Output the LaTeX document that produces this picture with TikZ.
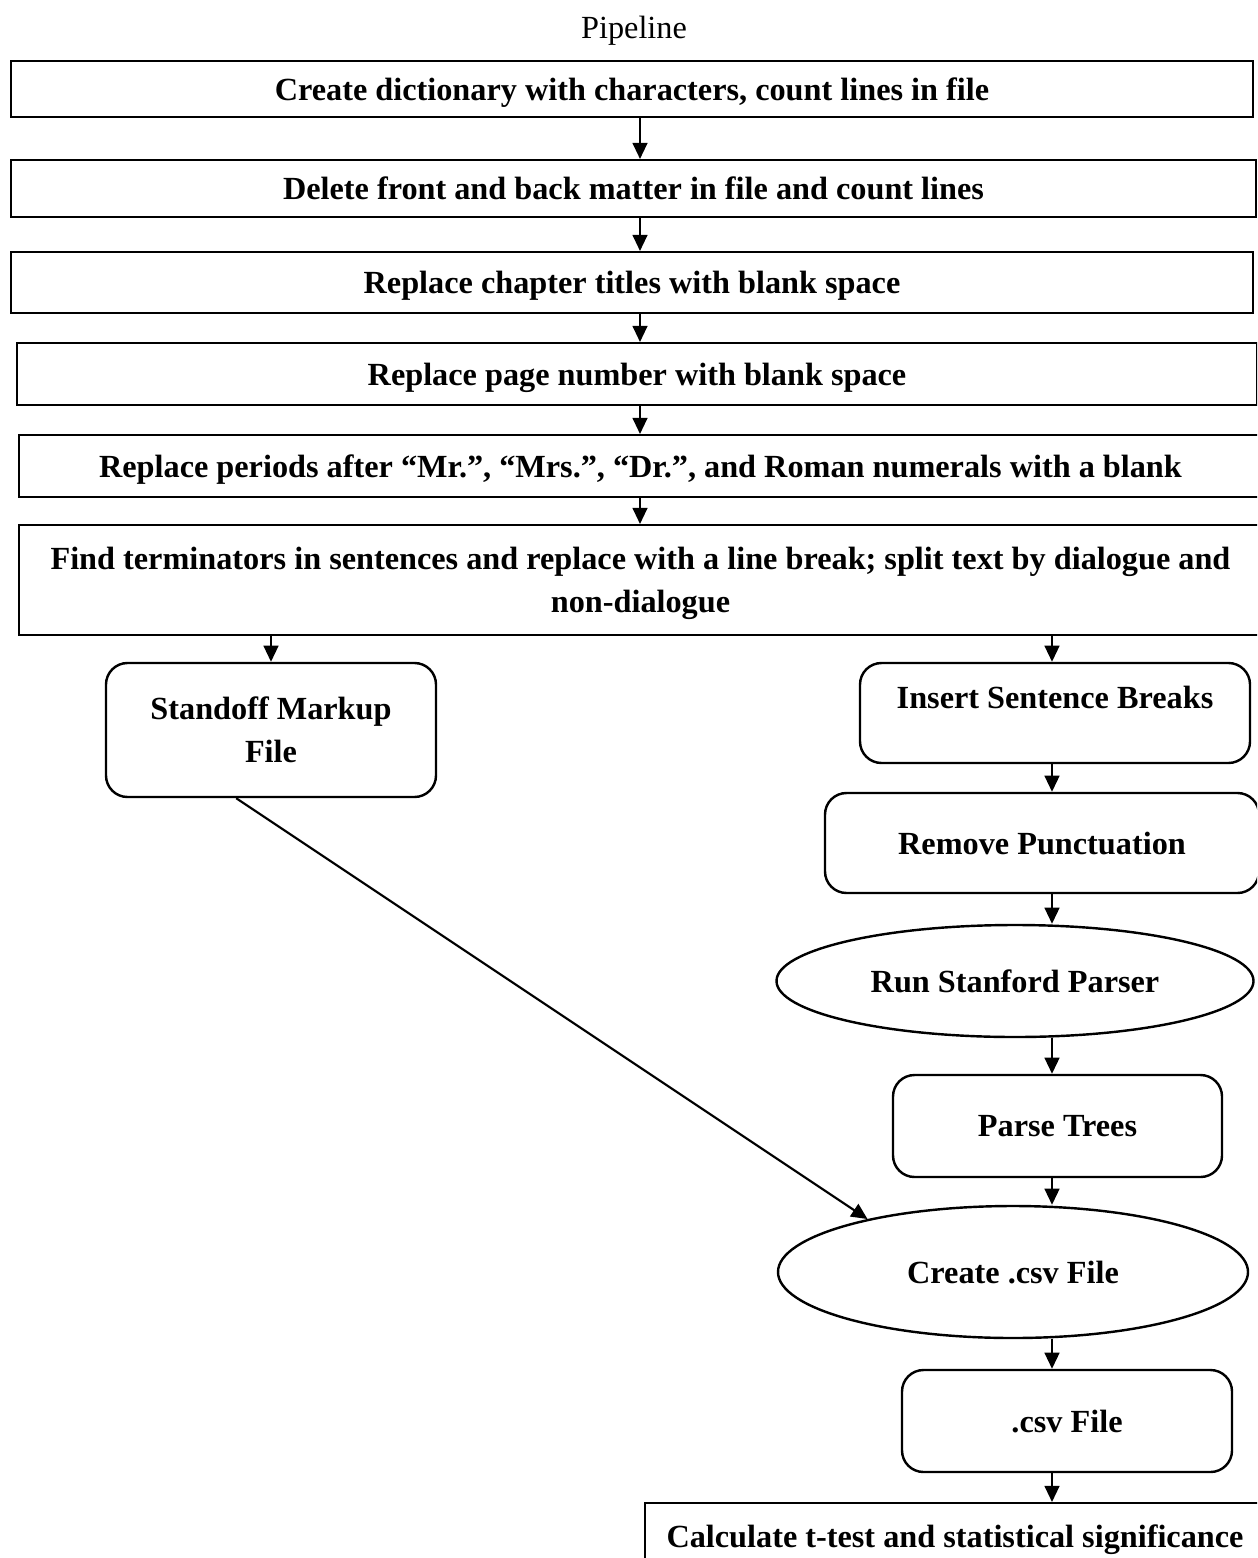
\documentclass[tikz,border=0pt]{standalone}
\usepackage{fontspec}
\setmainfont{Liberation Serif}
\usetikzlibrary{positioning,shapes.geometric,arrows.meta}
\newcommand{\pxu}{0.372pt}
\begin{document}
\begin{tikzpicture}[x=\pxu, y=-\pxu,
		stepbox/.style={draw, line width=0.75pt, inner sep=0pt, text depth=0pt, align=center, font=\bfseries\fontsize{12}{16}\selectfont},
		roundbox/.style={stepbox, rounded corners=8pt, line width=0.9pt},
		ovalbox/.style={stepbox, ellipse, line width=0.9pt},
		arr/.style={-{Triangle[length=6pt,width=5.5pt]}, line width=0.8pt}]
	\clip (0,0) rectangle (1257,1558);
	\coordinate (mid) at (640,0);
	\coordinate (rcol) at (1052,0);
	\node (title) at (634,31) {\fontsize{12}{14}\selectfont Pipeline};
	% main column
	\node[stepbox, minimum width={1242*\pxu}, minimum height={56*\pxu}] (dict) at (632,89) {Create dictionary with characters, count lines in file};
	\node[stepbox, minimum width={1245*\pxu}, minimum height={57*\pxu}] (front) at (633.5,188.5) {Delete front and back matter in file and count lines};
	\node[stepbox, minimum width={1242*\pxu}, minimum height={61*\pxu}] (chap) at (632,282.5) {Replace chapter titles with blank space};
	\node[stepbox, minimum width={1240*\pxu}, minimum height={62*\pxu}] (page) at (637,374) {Replace page number with blank space};
	\node[stepbox, minimum width={1243*\pxu}, minimum height={62*\pxu}] (period) at (640.5,466) {Replace periods after “Mr.”, “Mrs.”, “Dr.”, and Roman numerals with a blank};
	\node[stepbox, minimum width={1243*\pxu}, minimum height={110*\pxu}] (term) at (640.5,580) {Find terminators in sentences and replace with a line break; split text by dialogue and\\non-dialogue};
	% two branches
	\node[roundbox, minimum width={330*\pxu}, minimum height={134*\pxu}] (standoff) at (271,730) {Standoff Markup\\File};
	\node[roundbox, minimum width={390*\pxu}, minimum height={100*\pxu}] (insert) at (1055,713) {Insert Sentence Breaks\\[-4pt]\mbox{}};
	\node[roundbox, minimum width={434*\pxu}, minimum height={100*\pxu}] (punct) at (1042,843) {Remove Punctuation};
	\node[ovalbox, minimum width={477*\pxu}, minimum height={112*\pxu}] (parser) at (1015,981) {Run Stanford Parser};
	\node[roundbox, minimum width={329*\pxu}, minimum height={102*\pxu}] (trees) at (1057.5,1126) {Parse Trees};
	\node[ovalbox, minimum width={470*\pxu}, minimum height={132*\pxu}] (csvmake) at (1013,1272) {Create .csv File};
	\node[roundbox, minimum width={330*\pxu}, minimum height={102*\pxu}] (csvfile) at (1067,1421) {.csv File};
	\node[stepbox, minimum width={620*\pxu}, minimum height={66*\pxu}] (ttest) at (955,1536) {Calculate t-test and statistical significance};
	% arrows
	\draw[arr] (dict.south -| mid) -- (front.north -| mid);
	\draw[arr] (front.south -| mid) -- (chap.north -| mid);
	\draw[arr] (chap.south -| mid) -- (page.north -| mid);
	\draw[arr] (page.south -| mid) -- (period.north -| mid);
	\draw[arr] (period.south -| mid) -- (term.north -| mid);
	\draw[arr] (term.south -| standoff.north) -- (standoff.north);
	\draw[arr] (term.south -| rcol) -- (insert.north -| rcol);
	\draw[arr] (insert.south -| rcol) -- (punct.north -| rcol);
	\draw[arr] (punct.south -| rcol) -- (parser.north -| rcol);
	\draw[arr] (parser.south -| rcol) -- (trees.north -| rcol);
	\draw[arr] (trees.south -| rcol) -- (csvmake.north -| rcol);
	\draw[arr] (csvmake.south -| rcol) -- (csvfile.north -| rcol);
	\draw[arr] (csvfile.south -| rcol) -- (ttest.north -| rcol);
	\draw[arr] (standoff.243) -- (csvmake.160);
\end{tikzpicture}
\end{document}
